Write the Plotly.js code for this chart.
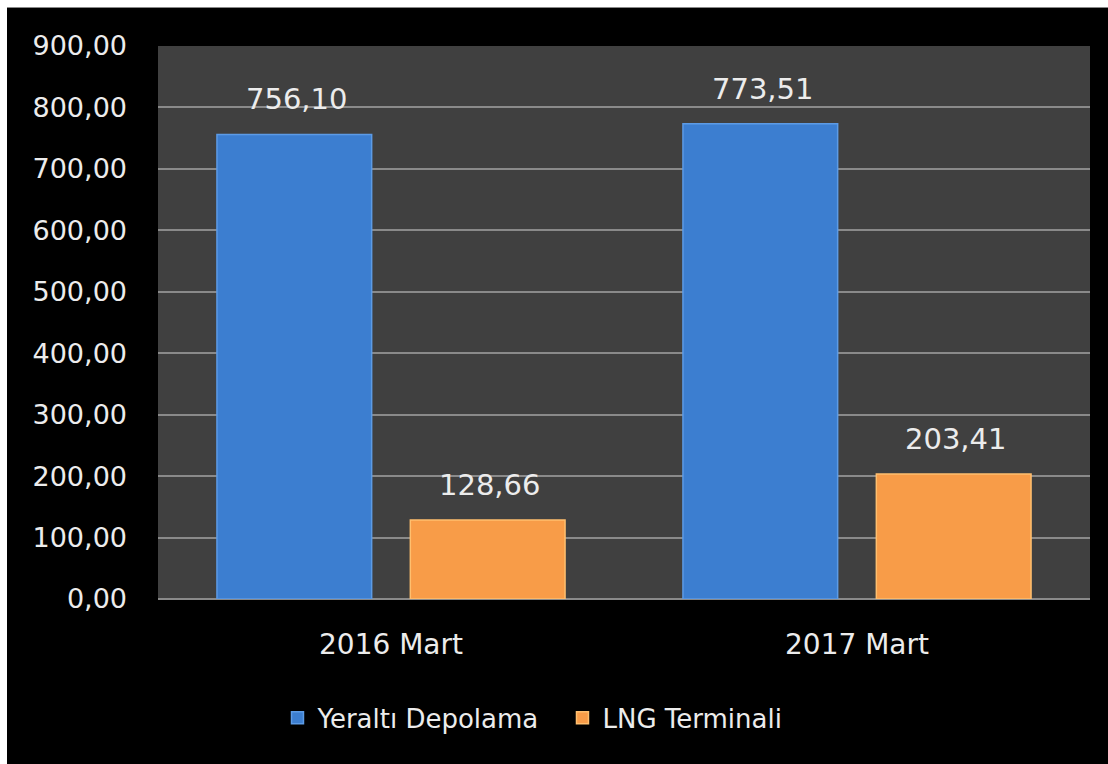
<!DOCTYPE html>
<html><head><meta charset="utf-8">
<script src="https://cdn.plot.ly/plotly-3.0.1.min.js"></script>
<style>
html,body{margin:0;padding:0;background:#ffffff;width:1108px;height:764px;overflow:hidden;}
#chart{position:absolute;left:7px;top:7px;width:1101px;height:757px;border-top:1px solid #888;}
</style></head>
<body><div id="chart"></div>
<script>
const categories = ["2016 Mart", "2017 Mart"];
const seriesNames = ["Yeraltı Depolama", "LNG Terminali"];
const yeraltiValues = [756.10, 773.51];
const lngValues = [128.66, 203.41];
const yTickValues = [0, 100, 200, 300, 400, 500, 600, 700, 800, 900];
const yTickLabels = ["0,00", "100,00", "200,00", "300,00", "400,00", "500,00", "600,00", "700,00", "800,00", "900,00"];

const fmt = v => v.toFixed(2).replace(".", ",");
const font = "DejaVu Sans, Verdana, sans-serif";
const txt = "#ececec";

const traces = [
  {type: "bar", name: seriesNames[0], x: categories, y: yeraltiValues,
   marker: {color: "#3c7ed0", line: {color: "#5c9be6", width: 1.5}}, hoverinfo: "none"},
  {type: "bar", name: seriesNames[1], x: categories, y: lngValues,
   marker: {color: "#f89c48", line: {color: "#ffbf6e", width: 1.5}}, hoverinfo: "none"}
];

const annotations = [];
[yeraltiValues, lngValues].forEach((vals, si) => {
  vals.forEach((v, ci) => {
    annotations.push({x: categories[ci], y: v, xref: "x", yref: "y",
      text: fmt(v), showarrow: false, yanchor: "bottom",
      xshift: si === 0 ? -95 : 98, yshift: 16,
      font: {family: font, size: 29, color: txt}});
  });
});

const layout = {
  width: 1101, height: 757,
  paper_bgcolor: "#000000", plot_bgcolor: "#404040",
  margin: {l: 151, r: 18, t: 38, b: 166},
  barmode: "group", bargap: 0.17, bargroupgap: 0.2,
  showlegend: true,
  legend: {orientation: "h", x: 0.434, xanchor: "center", y: -0.215, yanchor: "middle",
    font: {family: font, size: 26, color: txt}, itemwidth: 30, entrywidth: 240, traceorder: "normal"},
  xaxis: {type: "category", showgrid: false, zeroline: false, showline: false,
    tickfont: {family: font, size: 28, color: txt}, ticks: "", ticklabelstandoff: 26},
  yaxis: {range: [0, 900], tickvals: yTickValues, ticktext: yTickLabels,
    showgrid: true, gridcolor: "#8a8a8a", gridwidth: 2,
    zeroline: true, zerolinecolor: "#8a8a8a", zerolinewidth: 2, showline: false,
    tickfont: {family: font, size: 27, color: txt}, ticks: "", ticklabelstandoff: 30},
  annotations: annotations
};

Plotly.newPlot("chart", traces, layout, {staticPlot: true, displayModeBar: false});
</script></body></html>
